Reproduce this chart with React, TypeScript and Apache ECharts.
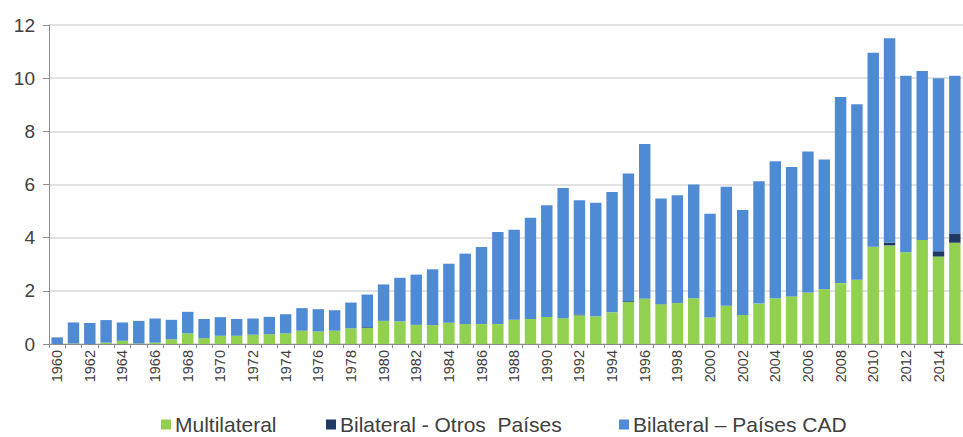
import React, { useEffect, useRef } from "react";
import * as echarts from "echarts";

const years: string[] = [];
for (let y = 1960; y <= 2015; y++) years.push(String(y));

const multilateral = [
  0, 0.02, 0, 0.05, 0.12, 0.02, 0.05, 0.18, 0.4, 0.22,
  0.31, 0.31, 0.35, 0.37, 0.4, 0.5, 0.47, 0.5, 0.59, 0.6,
  0.87, 0.85, 0.72, 0.71, 0.8, 0.75, 0.75, 0.75, 0.91, 0.94,
  1.02, 0.97, 1.08, 1.04, 1.19, 1.58, 1.7, 1.5, 1.54, 1.72,
  1.0, 1.44, 1.09, 1.52, 1.72, 1.79, 1.94, 2.06, 2.29, 2.42,
  3.66, 3.71, 3.45, 3.91, 3.29, 3.81,
];

const otrosPaises = [
  0, 0, 0, 0, 0, 0, 0, 0, 0, 0,
  0, 0, 0, 0, 0, 0, 0, 0, 0, 0.03,
  0, 0, 0, 0, 0, 0, 0, 0, 0, 0,
  0, 0, 0.03, 0, 0, 0.03, 0, 0, 0, 0,
  0, 0, 0, 0, 0, 0, 0, 0, 0, 0,
  0, 0.1, 0, 0, 0.2, 0.35,
];

const paisesCAD = [
  0.25, 0.79, 0.79, 0.85, 0.69, 0.85, 0.91, 0.73, 0.81, 0.72,
  0.7, 0.63, 0.61, 0.65, 0.72, 0.85, 0.84, 0.77, 0.97, 1.23,
  1.37, 1.64, 1.89, 2.1, 2.22, 2.65, 2.9, 3.46, 3.39, 3.81,
  4.2, 4.9, 4.3, 4.27, 4.53, 4.8, 5.82, 3.97, 4.06, 4.28,
  3.9, 4.48, 3.95, 4.6, 5.15, 4.87, 5.3, 4.88, 7.0, 6.6,
  7.3, 7.69, 6.64, 6.36, 6.51, 5.93,
];

const seriesNames = [
  "Multilateral",
  "Bilateral - Otros  Países",
  "Bilateral – Países CAD",
];

const FONT = "'Liberation Sans', Arial, sans-serif";
const TEXT = "#404040";

export default function App() {
  const ref = useRef<HTMLDivElement>(null);

  useEffect(() => {
    if (!ref.current) return;
    const chart = echarts.init(ref.current, undefined, { renderer: "svg" });
    const legendBase = {
      top: 414,
      padding: 0,
      itemWidth: 10,
      itemHeight: 10,
      itemGap: 0,
      icon: "rect",
      textStyle: { fontFamily: FONT, fontSize: 21, color: TEXT, padding: [0, 0, 0, -1] },
    };
    chart.setOption({
      animation: false,
      backgroundColor: "#ffffff",
      textStyle: { fontFamily: FONT },
      grid: { left: 49, top: 25, width: 922, height: 319, containLabel: false },
      legend: [
        { ...legendBase, left: 161, data: [seriesNames[0]] },
        { ...legendBase, left: 326, data: [seriesNames[1]] },
        { ...legendBase, left: 619, data: [seriesNames[2]] },
      ],
      xAxis: {
        type: "category",
        data: years,
        axisLine: { show: true, lineStyle: { color: "#8c8c8c", width: 1 } },
        axisTick: { show: true, length: 4, interval: 0, lineStyle: { color: "#8c8c8c" } },
        axisLabel: {
          rotate: 90,
          interval: 1,
          fontSize: 14.5,
          color: TEXT,
          margin: 6,
          fontFamily: FONT,
        },
      },
      yAxis: {
        type: "value",
        min: 0,
        max: 12,
        interval: 2,
        axisLine: { show: true, lineStyle: { color: "#8c8c8c", width: 1 } },
        axisTick: { show: true, length: 6, lineStyle: { color: "#8c8c8c" } },
        splitLine: { show: true, lineStyle: { color: "#d9d9d9", width: 1.5 } },
        axisLabel: { fontSize: 19, color: TEXT, margin: 14, fontFamily: FONT },
      },
      series: [
        {
          name: seriesNames[0],
          type: "bar",
          stack: "total",
          data: multilateral,
          barCategoryGap: "30%",
          itemStyle: { color: "#92D050" },
        },
        {
          name: seriesNames[1],
          type: "bar",
          stack: "total",
          data: otrosPaises,
          barCategoryGap: "30%",
          itemStyle: { color: "#1F3864" },
        },
        {
          name: seriesNames[2],
          type: "bar",
          stack: "total",
          data: paisesCAD,
          barCategoryGap: "30%",
          itemStyle: { color: "#4F8BD4" },
        },
      ],
    });
    return () => chart.dispose();
  }, []);

  return (
    <div
      ref={ref}
      style={{
        position: "absolute",
        left: 0,
        top: 0,
        width: 963,
        height: 437,
        overflow: "hidden",
        background: "#fff",
      }}
    />
  );
}
